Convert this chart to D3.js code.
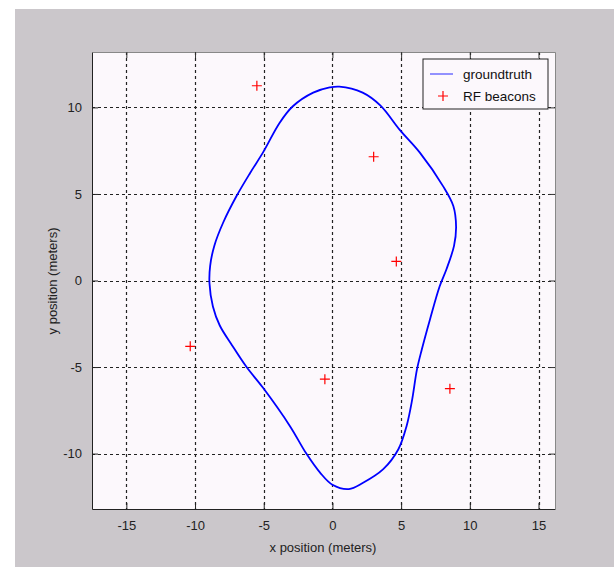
<!DOCTYPE html>
<html>
<head>
<meta charset="utf-8">
<script src="https://cdn.jsdelivr.net/npm/d3@7"></script>
<style>
  html, body { margin: 0; padding: 0; background: #fff; }
  svg { display: block; font-family: "Liberation Sans", Arial, sans-serif; }
</style>
</head>
<body>
<svg id="chart" width="614" height="567"></svg>
<script>
// axis limits and ticks (meters)
const xLimits = [-17.5, 16.2];
const yLimits = [-13.2, 13.2];
const xTicks = [-15, -10, -5, 0, 5, 10, 15];
const yTicks = [-10, -5, 0, 5, 10];

const groundtruth = [
  [0.5, 11.2], [2.2, 10.85], [3.5, 10.1], [4.9, 8.7], [6.35, 7.4], [8.05, 5.45],
  [8.8, 4.3], [9.0, 3.1], [8.85, 2.0], [8.3, 0.65], [7.8, -0.35], [7.1, -2.25],
  [6.5, -4.0], [6.15, -5.15], [5.8, -6.9], [5.4, -8.4], [4.8, -9.75], [3.7, -10.9],
  [2.2, -11.7], [1.2, -12.05], [0.0, -11.8], [-0.9, -11.1], [-1.9, -10.0], [-3.1, -8.4],
  [-5.05, -6.2], [-6.25, -5.0], [-7.3, -3.75], [-8.2, -2.6], [-8.7, -1.5], [-8.95, -0.15],
  [-8.9, 0.85], [-8.6, 2.0], [-7.95, 3.35], [-7.0, 4.85], [-6.0, 6.2], [-5.05, 7.4],
  [-3.85, 9.1], [-2.9, 10.05], [-1.4, 10.85], [-0.2, 11.15]
];

// RF beacon positions
const beacons = [
  [-5.5, 11.25], [3.0, 7.15], [4.65, 1.1], [8.55, -6.25], [-10.35, -3.8], [-0.55, -5.7]
];

const legendItems = ['groundtruth', 'RF beacons'];

const svg = d3.select('#chart');
const box = { left: 92, right: 555, top: 52, bottom: 509 };

// grey figure background
svg.append('rect').attr('x', 15).attr('y', 9).attr('width', 599).attr('height', 558).attr('fill', '#cbc7cb');

const x = d3.scaleLinear().domain(xLimits).range([box.left, box.right]);
const y = d3.scaleLinear().domain(yLimits).range([box.bottom, box.top]);

svg.append('rect')
  .attr('x', box.left).attr('y', box.top)
  .attr('width', box.right - box.left).attr('height', box.bottom - box.top)
  .attr('fill', '#fcf8fc');

// dotted grid
const grid = svg.append('g').attr('stroke', '#222').attr('stroke-width', 1.2).attr('stroke-dasharray', '3,3');
grid.selectAll('.gx').data(xTicks).join('line')
  .attr('x1', (d) => Math.round(x(d)) + 0.5).attr('x2', (d) => Math.round(x(d)) + 0.5)
  .attr('y1', box.top).attr('y2', box.bottom);
grid.selectAll('.gy').data(yTicks).join('line')
  .attr('y1', (d) => Math.round(y(d)) + 0.5).attr('y2', (d) => Math.round(y(d)) + 0.5)
  .attr('x1', box.left).attr('x2', box.right);

// axes (ticks pointing inward like MATLAB)
const tickFmt = (d) => d;
const axB = svg.append('g').attr('transform', `translate(0,${box.bottom})`)
  .call(d3.axisBottom(x).tickValues(xTicks).tickSizeInner(-6).tickSizeOuter(0).tickPadding(12).tickFormat(tickFmt));
const axT = svg.append('g').attr('transform', `translate(0,${box.top})`)
  .call(d3.axisTop(x).tickValues(xTicks).tickSizeInner(-6).tickSizeOuter(0).tickFormat(''));
const axL = svg.append('g').attr('transform', `translate(${box.left},0)`)
  .call(d3.axisLeft(y).tickValues(yTicks).tickSizeInner(-6).tickSizeOuter(0).tickPadding(10).tickFormat(tickFmt));
const axR = svg.append('g').attr('transform', `translate(${box.right},0)`)
  .call(d3.axisRight(y).tickValues(yTicks).tickSizeInner(-6).tickSizeOuter(0).tickFormat(''));

[axB, axL].forEach((a) => {
  a.select('.domain').attr('stroke', '#222');
  a.selectAll('.tick line').attr('stroke', '#222');
  a.selectAll('.tick text').attr('fill', '#222').attr('font-size', 13);
});
[axT, axR].forEach((a) => {
  a.select('.domain').attr('stroke', '#888');
  a.selectAll('.tick line').attr('stroke', '#333');
});

// axis labels
svg.append('text').attr('x', 323).attr('y', 552).attr('text-anchor', 'middle')
  .attr('font-size', 13).attr('fill', '#222').text('x position (meters)');
svg.append('text').attr('transform', 'translate(57,281) rotate(-90)').attr('text-anchor', 'middle')
  .attr('font-size', 13).attr('fill', '#222').text('y position (meters)');

// ground truth loop
const line = d3.line().x((d) => x(d[0])).y((d) => y(d[1])).curve(d3.curveCatmullRomClosed.alpha(0.5));
svg.append('path').datum(groundtruth).attr('d', line)
  .attr('fill', 'none').attr('stroke', '#0000ff').attr('stroke-width', 1.8);

// beacons as red plus marks
const plus = 'M-5,0H5M0,-5V5';
svg.append('g').selectAll('path').data(beacons).join('path')
  .attr('transform', (d) => `translate(${x(d[0])},${y(d[1])})`)
  .attr('d', plus).attr('stroke', '#ff0000').attr('stroke-width', 1.2).attr('fill', 'none');

// legend
const lg = svg.append('g').attr('transform', 'translate(423,59)');
lg.append('rect').attr('width', 125).attr('height', 50).attr('fill', '#fcf8fc').attr('stroke', '#222');
lg.selectAll('text').data(legendItems).join('text')
  .attr('x', 40).attr('y', (d, i) => 20 + i * 22)
  .attr('font-size', 13.5).attr('fill', '#111').text((d) => d);
lg.append('line').attr('x1', 7).attr('x2', 30).attr('y1', 15).attr('y2', 15)
  .attr('stroke', '#6f6fff').attr('stroke-width', 1.5);
lg.append('path').attr('transform', 'translate(20,37)').attr('d', plus)
  .attr('stroke', '#ff0000').attr('stroke-width', 1.2);
</script>
</body>
</html>
